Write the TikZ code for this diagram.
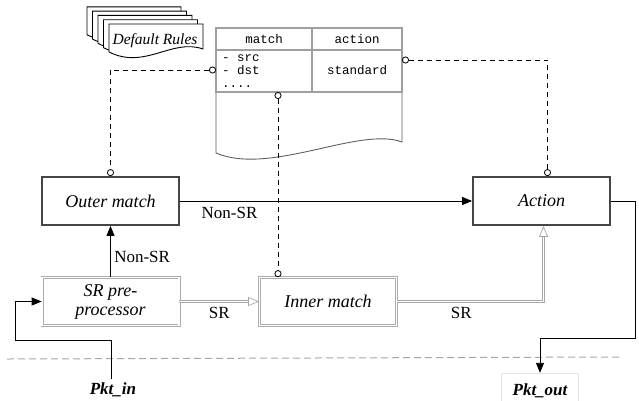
\documentclass[tikz,border=0pt]{standalone}
\usepackage{fontspec}
\setmainfont{Liberation Serif}
\setmonofont{Liberation Mono}
\usetikzlibrary{arrows.meta}

\begin{document}
\begin{tikzpicture}[x=1pt, y=-1pt,
    stagebox/.style={draw=gray!55!black, line width=1.8pt, minimum width=137pt, minimum height=48pt,
      font=\fontsize{18}{19}\selectfont\itshape},
    dblbox/.style={draw=gray!65, double=white, double distance=1.6pt, line width=0.7pt,
      minimum width=137pt, minimum height=48pt, align=center, font=\fontsize{18}{19}\selectfont\itshape},
    flow/.style={line width=0.9pt, -{Triangle[length=10pt,width=8pt]}},
    srflow/.style={draw=gray!70, double=white, double distance=1.2pt, line width=0.7pt,
      -{Triangle[open,length=11pt,width=9pt]}},
    rulelink/.style={line width=0.8pt, dash pattern=on 5pt off 4pt,
      {Circle[open,length=7pt,width=7pt]}-{Circle[open,length=7pt,width=7pt]}},
    flowlabel/.style={font=\fontsize{17}{18}\selectfont},
    docsheet/.style={draw=black, fill=white, line width=0.9pt},
    tblline/.style={draw=gray!75, line width=1.1pt},
    tbltext/.style={font=\fontsize{12.5}{13}\selectfont\ttfamily, inner sep=0pt},
    pktlabel/.style={font=\fontsize{17}{18}\selectfont\bfseries\itshape}
  ]
  \useasboundingbox (0,0) rectangle (639,400);

  % Default rules (stacked sheets)
  \foreach \k in {4,3,2,1,0} {
    \draw[docsheet, shift={(-5.5*\k,-4.3*\k)}]
      (109,24) -- (203,24) -- (203,49) .. controls (172,38) and (145,70) .. (109,52) -- cycle;
  }
  \node[font=\fontsize{15.5}{16}\selectfont\itshape] (defrules) at (155,41) {Default Rules};

  % Rule table
  \draw[docsheet, draw=gray!75!black] (216,28) -- (402,28) -- (402,142)
    .. controls (360,126) and (270,176) .. (216,153) -- cycle;
  \draw[tblline] (216,28) rectangle (402,92);
  \draw[tblline] (216,50) -- (402,50);
  \draw[tblline] (312,28) -- (312,92);
  \node[tbltext] (hmatch) at (264,39) {match};
  \node[tbltext] (haction) at (357,39) {action};
  \node[tbltext, anchor=base west] (fsrc) at (222,61) {- src};
  \node[tbltext, anchor=base west] (fdst) at (222,74) {- dst};
  \node[tbltext, anchor=base west] (fmore) at (222,87) {....};
  \node[tbltext] (astd) at (357,70) {standard};
  \coordinate (tdst) at (216,70);
  \coordinate (tbot) at (278,92);
  \coordinate (tact) at (402,60);

  % Stages
  \node[stagebox] (outer) at (110.5,201) {Outer match};
  \node[stagebox] (action) at (541.5,201) {Action};
  \node[dblbox] (srpre) at (110.5,301.5) {SR pre-\\processor};
  \node[dblbox] (inner) at (328,301.5) {Inner match};

  % Packet in / out
  \node[pktlabel] (pktin) at (113,390) {Pkt\_in};
  \node[pktlabel, draw=gray!20, minimum width=77pt, minimum height=36pt] (pktout) at (540,391) {Pkt\_out};
  \coordinate (inturn) at (15,340);
  \coordinate (outturn) at (635,338);
  \draw[gray!70, line width=1pt, dash pattern=on 7pt off 4pt] (7,359) -- (620,357);

  % Table links
  \draw[rulelink] (tdst) -| (outer.north);
  \draw[rulelink] (tbot) -- (tbot |- inner.north);
  \draw[rulelink] (tact) -| ([xshift=6pt]action.north);

  % Packet flow
  \draw[flow] ([xshift=-2pt]pktin.north) |- (inturn) |- (srpre.west);
  \draw[flow] (srpre) -- (outer) node[flowlabel, midway, right, yshift=-5pt] {Non-SR};
  \draw[flow] (outer) -- (action) node[flowlabel, pos=0.17, below=2pt] {Non-SR};
  \draw[srflow] (srpre) -- (inner) node[flowlabel, midway, below=2pt] {SR};
  \draw[srflow] (inner.east) -| ([xshift=2pt]action.south) node[flowlabel, pos=0.22, below=2pt] {SR};
  \draw[flow] (action.east) -| (outturn) -| (pktout.north);
\end{tikzpicture}
\end{document}
